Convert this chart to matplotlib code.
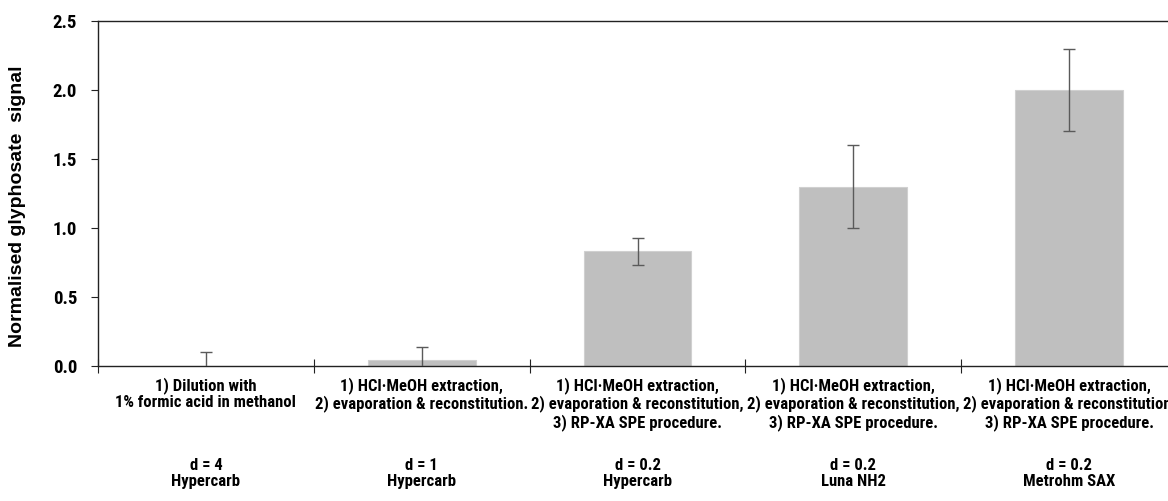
import matplotlib
matplotlib.use("Agg")
import matplotlib.pyplot as plt
import matplotlib.transforms as mtransforms

# Data
procedures = [
    "1) Dilution with\n1% formic acid in methanol",
    "1) HCl\u00b7MeOH extraction,\n2) evaporation & reconstitution.",
    "1) HCl\u00b7MeOH extraction,\n2) evaporation & reconstitution,\n3) RP-XA SPE procedure.",
    "1) HCl\u00b7MeOH extraction,\n2) evaporation & reconstitution,\n3) RP-XA SPE procedure.",
    "1) HCl\u00b7MeOH extraction,\n2) evaporation & reconstitution,\n3) RP-XA SPE procedure.",
]
dilutions = ["d = 4", "d = 1", "d = 0.2", "d = 0.2", "d = 0.2"]
columns = ["Hypercarb", "Hypercarb", "Hypercarb", "Luna NH2", "Metrohm SAX"]
signal = [0.0, 0.04, 0.83, 1.30, 2.00]
signal_err = [0.10, 0.10, 0.10, 0.30, 0.30]
yticks = [0.0, 0.5, 1.0, 1.5, 2.0, 2.5]

narrow = ["Roboto Condensed", "Liberation Sans", "DejaVu Sans"]
regular = ["Liberation Sans", "DejaVu Sans"]

fig = plt.figure(figsize=(11.68, 5.01), dpi=100)
ax = fig.add_axes([98 / 1168, 135 / 501, 1079 / 1168, 345 / 501])

x = [i + 0.5 for i in range(len(signal))]
ax.bar(x, signal, width=0.5, color="#bfbfbf", edgecolor="#d0d0d0", linewidth=0.8, zorder=2)
ax.errorbar(x, signal, yerr=signal_err, fmt="none", ecolor="#5a5a5a",
            elinewidth=1.0, capsize=4, capthick=1.0, zorder=3)

ax.set_xlim(0, len(signal))
ax.set_ylim(0, 2.5)
ax.set_yticks(yticks)
ax.set_yticklabels([f"{v:.1f}" for v in yticks])
ax.set_xticks(range(len(signal) + 1))
ax.set_xticklabels([])

for s in ax.spines.values():
    s.set_color("#222222")
    s.set_linewidth(1.0)

ax.tick_params(axis="y", direction="out", length=5, width=0.8, pad=10,
               labelsize=13.5, colors="#222222")
ax.tick_params(axis="x", direction="inout", length=10, width=0.8, colors="#222222")
for lab in ax.get_yticklabels():
    lab.set_fontfamily(narrow)
    lab.set_fontweight("bold")
    lab.set_color("black")

fig.text(18 / 1168, 1 - 206 / 501, "Normalised glyphosate  signal", rotation=90,
         ha="center", va="center", fontsize=14, fontweight="bold", family=regular)

trans = mtransforms.blended_transform_factory(ax.transData, fig.transFigure)
for xi, proc, d, col in zip(x, procedures, dilutions, columns):
    ax.text(xi, 1 - 377 / 501, proc, transform=trans, ha="center", va="top",
            fontsize=12, fontweight="bold", family=narrow, linespacing=1.12)
    ax.text(xi, 1 - 458 / 501, d + "\n" + col, transform=trans, ha="center", va="top",
            fontsize=12, fontweight="bold", family=narrow, linespacing=1.12)

fig.savefig("out.png", dpi=100)
